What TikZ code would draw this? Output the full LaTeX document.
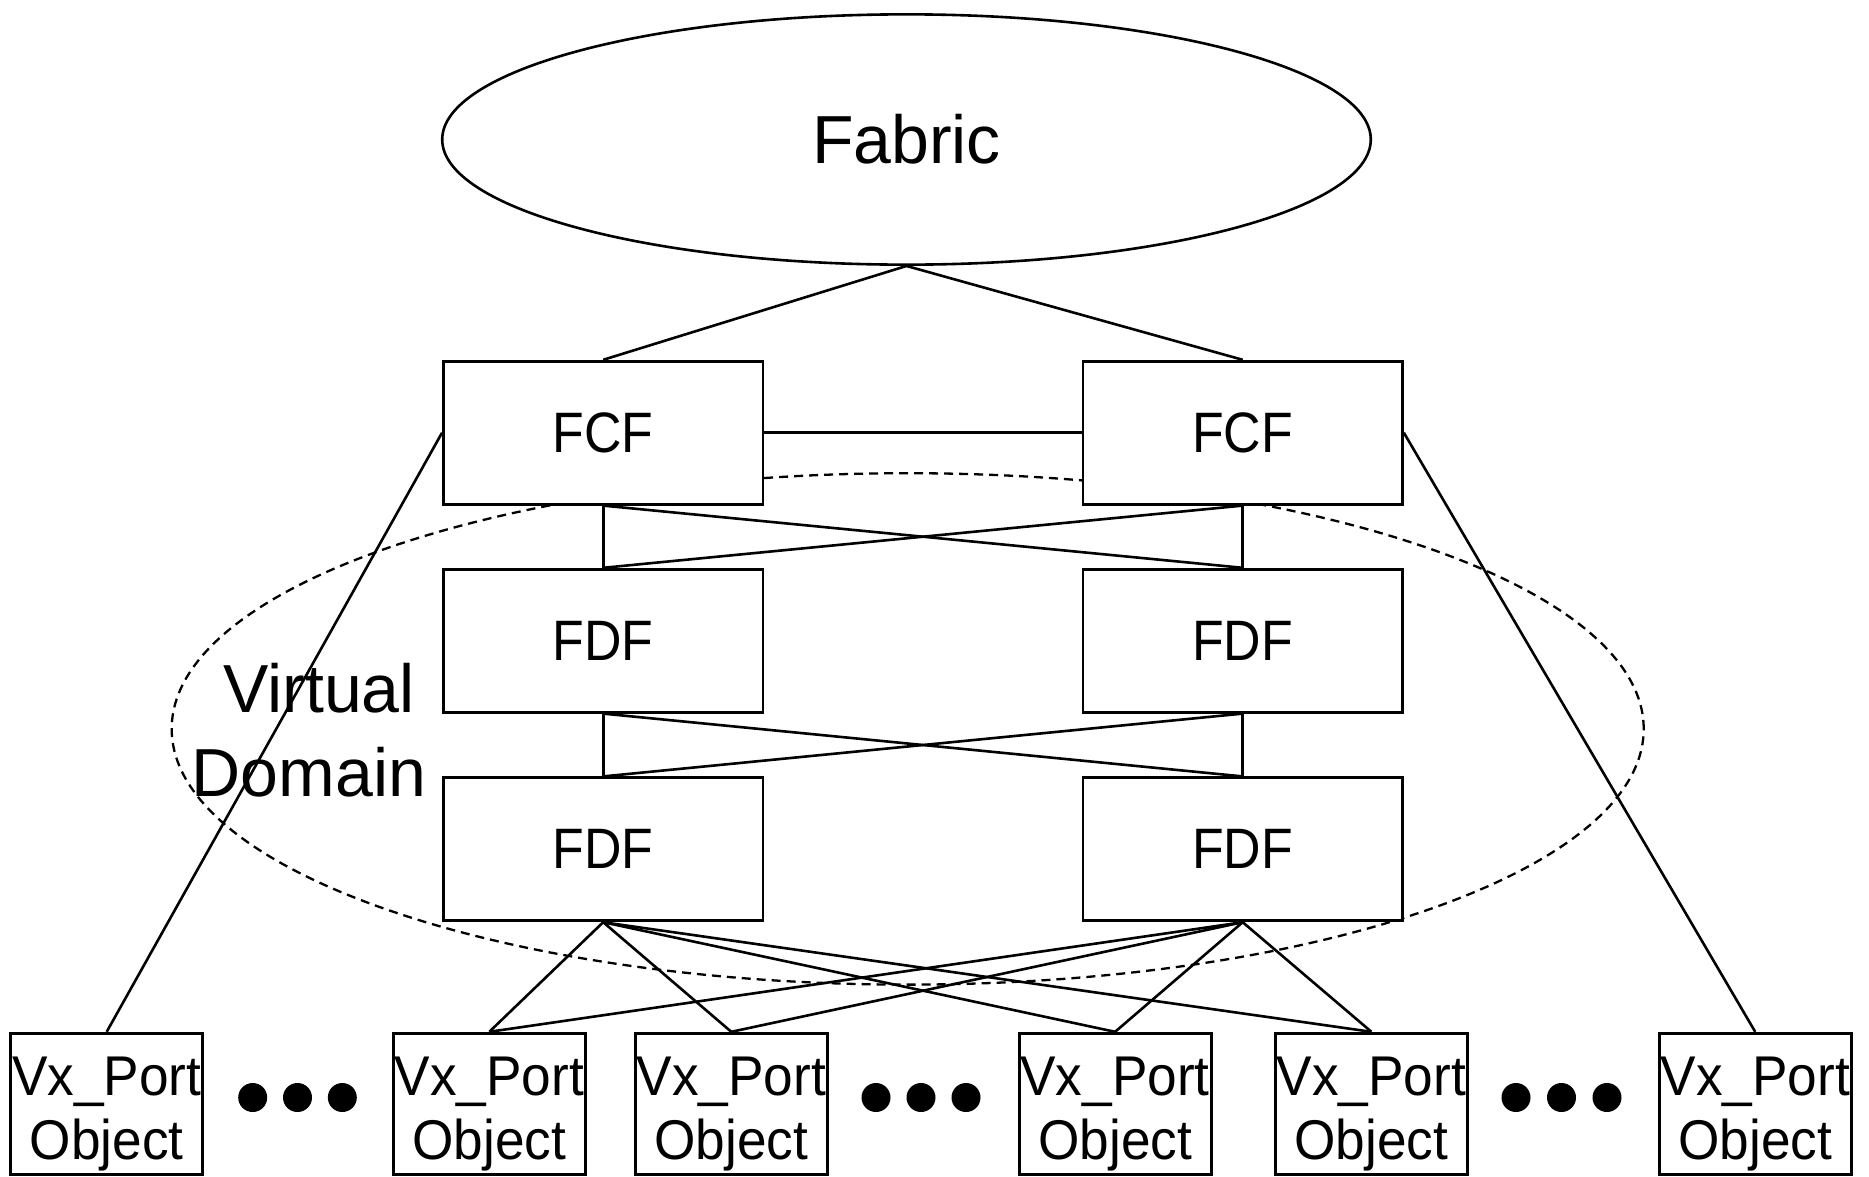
\documentclass[tikz,border=0pt]{standalone}
\usepackage{fontspec}
\setmainfont{Liberation Sans}
% slightly condensed faces for the box labels
\newfontfamily\boxfont{Liberation Sans}[FakeStretch=0.91]
\newfontfamily\portfont{Liberation Sans}[FakeStretch=0.95]
\usetikzlibrary{shapes.geometric,backgrounds}

\tikzset{
  unitbox/.style={draw, line width=2.8pt, fill=white, inner sep=0pt,
    minimum width=319.5pt, minimum height=143pt,
    font=\boxfont\fontsize{57}{62}\selectfont},
  portbox/.style={draw, line width=2.8pt, fill=white, inner sep=0pt,
    minimum width=192pt, minimum height=141pt, align=center,
    font=\portfont\fontsize{56}{63.5}\selectfont},
  link/.style={line width=2.6pt},
  vdomring/.style={draw, ellipse, line width=2.3pt,
    dash pattern=on 9pt off 6pt, inner sep=0pt},
  dotmark/.style={fill=black}
}
% port label, set a little below the box centre
\newcommand{\portlabel}{\rule{0pt}{59pt}Vx\_Port\\Object}

\begin{document}
\begin{tikzpicture}[x=1pt, y=-1pt]
  \useasboundingbox (0,0) rectangle (1869,1176);

  % fabric cloud
  \node[draw, ellipse, line width=2.6pt, inner sep=0pt,
        minimum width=928.6pt, minimum height=250.3pt,
        font=\fontsize{68}{80}\selectfont] (fabric) at (906.5,139.5) {Fabric};

  % switching elements
  \node[unitbox] (fcfL)  at (603.2,432.7) {FCF};
  \node[unitbox] (fcfR)  at (1242.7,432.7) {FCF};
  \node[unitbox] (fdf1L) at (603.2,640.7) {FDF};
  \node[unitbox] (fdf1R) at (1242.7,640.7) {FDF};
  \node[unitbox] (fdf2L) at (603.2,849.3) {FDF};
  \node[unitbox] (fdf2R) at (1242.7,849.3) {FDF};

  % port objects
  \node[portbox] (vx1) at (106.7,1103.7)  {\portlabel};
  \node[portbox] (vx2) at (489.3,1103.7)  {\portlabel};
  \node[portbox] (vx3) at (731.3,1103.7)  {\portlabel};
  \node[portbox] (vx4) at (1115.1,1103.7) {\portlabel};
  \node[portbox] (vx5) at (1371.4,1103.7) {\portlabel};
  \node[portbox] (vx6) at (1755.2,1103.7) {\portlabel};

  % ellipsis marks between port objects
  \foreach \px in {252.7,297.5,342.3, 876,921,966, 1516,1561.5,1607}
    \fill[dotmark] (\px,1097.5) circle (14.5pt);

  % domain label
  \node[anchor=base, font=\fontsize{68}{80}\selectfont] (vdA) at (319,712.8) {Virtual};
  \node[anchor=base, font=\fontsize{68}{80}\selectfont] (vdB) at (309,796.3) {Domain};

  \begin{pgfonlayer}{background}
    % virtual domain boundary
    \node[vdomring, minimum width=1472pt, minimum height=511.4pt] (vdom) at (907.7,728.9) {};

    % fabric uplinks and inter-FCF link
    \draw[link] (fabric.south) -- (fcfL.north);
    \draw[link] (fabric.south) -- (fcfR.north);
    \draw[link] (fcfL.east) -- (fcfR.west);

    % FCF to outer port objects
    \draw[link] (fcfL.west) -- (vx1.north);
    \draw[link] (fcfR.east) -- (vx6.north);

    % FCF to first FDF tier
    \foreach \a in {fcfL,fcfR}
      \foreach \b in {fdf1L,fdf1R}
        \draw[link] (\a.south) -- (\b.north);

    % first FDF tier to second FDF tier
    \foreach \a in {fdf1L,fdf1R}
      \foreach \b in {fdf2L,fdf2R}
        \draw[link] (\a.south) -- (\b.north);

    % second FDF tier to inner port objects
    \foreach \a in {fdf2L,fdf2R}
      \foreach \b in {vx2,vx3,vx4,vx5}
        \draw[link] (\a.south) -- (\b.north);
  \end{pgfonlayer}
\end{tikzpicture}
\end{document}
